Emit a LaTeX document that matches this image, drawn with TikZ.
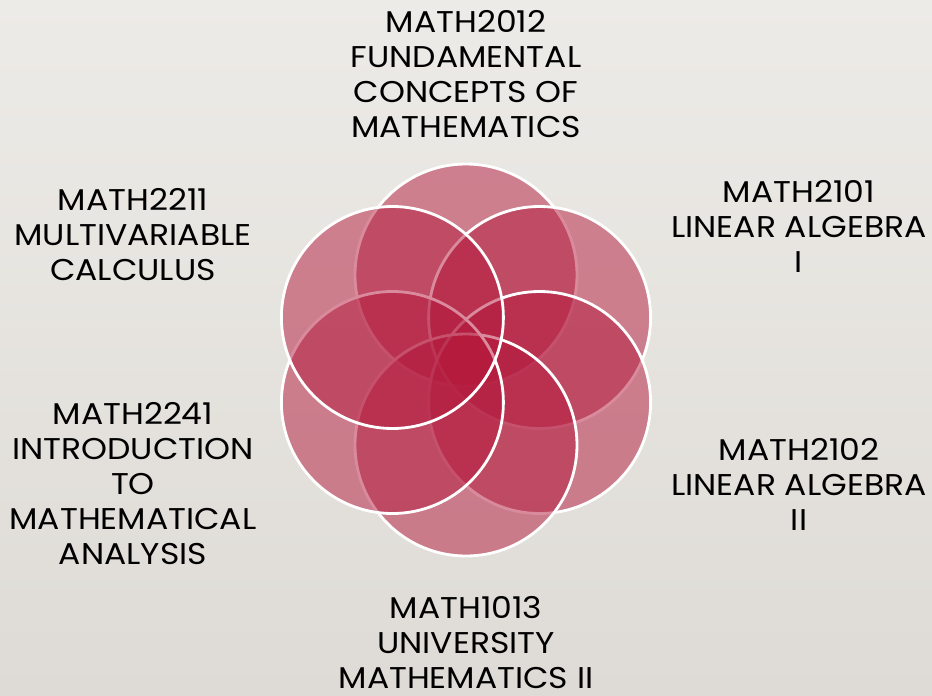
\documentclass[tikz,border=0pt]{standalone}
\usepackage{fontspec}
\usetikzlibrary{calc}
\setmainfont{Poppins}[FakeStretch=1.1]
\definecolor{bgtop}{RGB}{237,235,231}
\definecolor{bgbot}{RGB}{222,219,214}
\definecolor{petal}{RGB}{180,25,60}
\begin{document}
\begin{tikzpicture}[x=1pt,y=-1pt,
  petalc/.style={circle, minimum size=222pt, inner sep=0pt, fill=petal, fill opacity=0.5, draw=white, draw opacity=1, line width=2.8pt},
  lbl/.style={align=center, font=\fontsize{30}{35}\selectfont, text=black, inner sep=0pt}]
\shade[top color=bgtop,bottom color=bgbot] (0,0) rectangle (932,696);
\useasboundingbox (0,0) rectangle (932,696);
\coordinate (o) at (466,360);
\node[petalc] (top) at ($(o)+(0,-85)$) {};
\node[petalc] (ur) at ($(o)+(73.6,-42.5)$) {};
\node[petalc] (lr) at ($(o)+(73.6,42.5)$) {};
\node[petalc] (bot) at ($(o)+(0,85)$) {};
\node[petalc] (ll) at ($(o)+(-73.6,42.5)$) {};
\node[petalc] (ul) at ($(o)+(-73.6,-42.5)$) {};
\node[lbl] (ttop) at (466,74) {MATH2012\\FUNDAMENTAL\\CONCEPTS OF\\MATHEMATICS};
\node[lbl] (tul) at (133,235) {MATH2211\\MULTIVARIABLE\\CALCULUS};
\node[lbl] (tur) at (799,226) {MATH2101\\LINEAR ALGEBRA\\I};
\node[lbl] (tlr) at (799,484) {MATH2102\\LINEAR ALGEBRA\\II};
\node[lbl] (tll) at (133,484) {MATH2241\\INTRODUCTION\\TO\\MATHEMATICAL\\ANALYSIS};
\node[lbl] (tbot) at (466,643) {MATH1013\\UNIVERSITY\\MATHEMATICS II};
\end{tikzpicture}
\end{document}
